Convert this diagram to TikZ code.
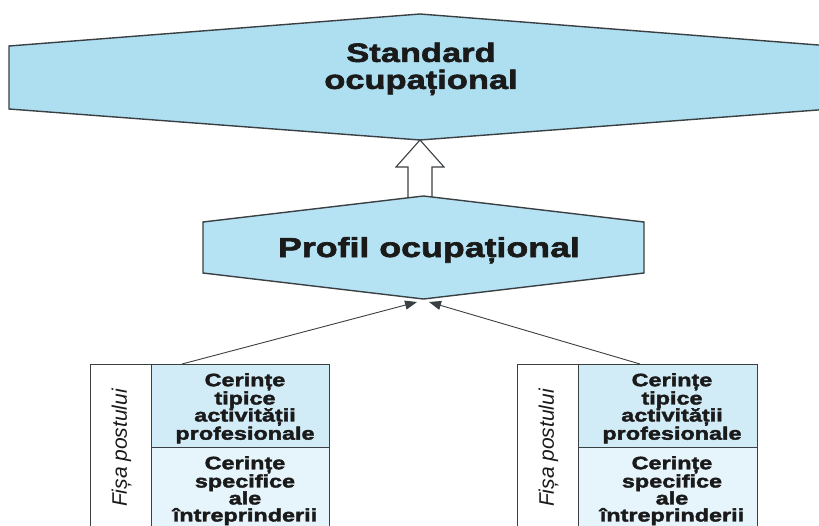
\documentclass[tikz,border=0pt]{standalone}
\usepackage{fontspec}
\newfontfamily\dsans[FakeStretch=1.3, BoldFeatures={FakeBold=2.2}]{Liberation Sans}
\newfontfamily\fsans{Liberation Sans}
\usetikzlibrary{arrows.meta,calc}
\definecolor{edgec}{HTML}{3A3F43}
\definecolor{hexfill}{HTML}{ADDFF1}
\definecolor{proffill}{HTML}{B6E3F3}
\definecolor{cellA}{HTML}{D2ECF7}
\definecolor{cellB}{HTML}{E6F5FB}
\definecolor{txt}{HTML}{1A1A1A}
\tikzset{
  hexshape/.style={draw=edgec, line width=1.4pt, line join=miter},
  blockarrow/.style={draw=edgec, fill=white, line width=1.1pt},
  colbox/.style={draw=edgec, fill=white, line width=1pt, anchor=north west, inner sep=0},
  cellbox/.style={draw=edgec, line width=1pt, anchor=north west, inner sep=0},
  conn/.style={draw=edgec, line width=0.9pt, -{Triangle[length=12pt,width=9pt]}},
  bigtext/.style={text=txt, inner sep=0, align=center, font=\dsans\bfseries\fontsize{26.5}{27}\selectfont},
  proftext/.style={text=txt, inner sep=0, font=\dsans\bfseries\fontsize{27.5}{28}\selectfont},
  celltext/.style={text=txt, inner sep=0, align=center, anchor=north, font=\dsans\bfseries\fontsize{18}{17}\selectfont},
  fisatext/.style={text=txt, inner sep=0, rotate=90, font=\fsans\itshape\fontsize{21}{23}\selectfont}
}
\begin{document}
\begin{tikzpicture}[x=1pt,y=-1pt]
\useasboundingbox (0,0) rectangle (819,525);
\clip (0,0) rectangle (819,525);

% Standard ocupational hexagon
\filldraw[hexshape, fill=hexfill] (9,46) -- (420,14) -- (831,46) -- (831,109) -- (420,140) -- (9,109) -- cycle;
\coordinate (stdB) at (420,140);
\node[bigtext, anchor=north] (stdT) at (421,42.5) {Standard\\ocupațional};

% block arrow
\filldraw[blockarrow] (stdB) -- ++(24,27) -- ++(-12,0) -- ++(0,32) -- ++(-24,0) -- ++(0,-32) -- ++(-12,0) -- cycle;

% Profil ocupational hexagon
\filldraw[hexshape, fill=proffill] (203,222) -- (423.5,196) -- (644,222) -- (644,273) -- (423.5,299) -- (203,273) -- cycle;
\coordinate (profB) at (423.5,299);
\node[proftext, anchor=base] (profT) at (429,257) {Profil ocupațional};

% left box
\node[colbox, minimum width=61pt, minimum height=180pt] (L0) at (90,364) {};
\node[cellbox, fill=cellA, minimum width=178pt, minimum height=83pt] (L1) at (151,364) {};
\node[cellbox, fill=cellB, minimum width=178pt, minimum height=100pt] (L2) at (151,447) {};
\node[celltext] (L1t) at (245,373) {Cerințe\\tipice\\activității\\profesionale};
\node[celltext] (L2t) at (245,456) {Cerințe\\specifice\\ale\\întreprinderii};
\node[fisatext] (L0t) at (121.5,448) {Fișa postului};

% right box
\node[colbox, minimum width=61pt, minimum height=180pt] (R0) at (517,364) {};
\node[cellbox, fill=cellA, minimum width=179pt, minimum height=83pt] (R1) at (578,364) {};
\node[cellbox, fill=cellB, minimum width=179pt, minimum height=100pt] (R2) at (578,447) {};
\node[celltext] (R1t) at (672,373) {Cerințe\\tipice\\activității\\profesionale};
\node[celltext] (R2t) at (672,456) {Cerințe\\specifice\\ale\\întreprinderii};
\node[fisatext] (R0t) at (548.5,448) {Fișa postului};

% connectors
\draw[conn] ([xshift=31pt]L1.north west) -- ($(profB)+(-6.5,3)$);
\draw[conn] ([xshift=62pt]R1.north west) -- ($(profB)+(5.5,3)$);
\end{tikzpicture}
\end{document}
